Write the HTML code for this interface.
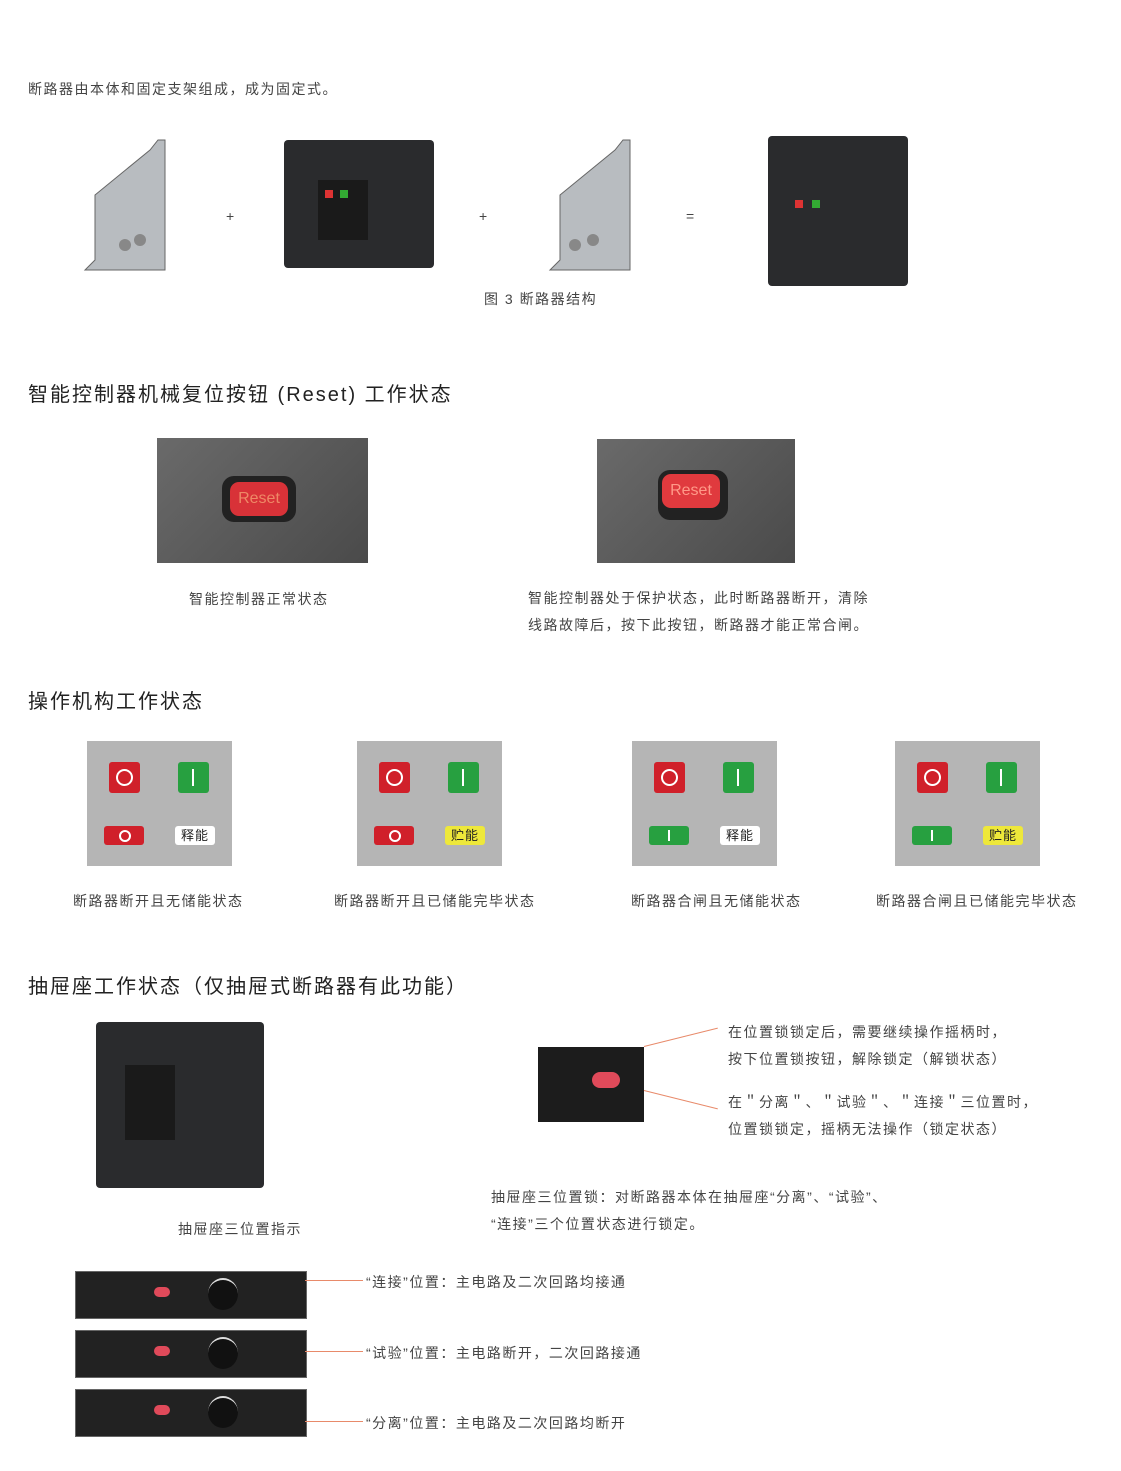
<!DOCTYPE html>
<html><head><meta charset="utf-8"><style>
body{margin:0;width:1121px;height:1471px;background:#fff;position:relative;font-family:"Liberation Sans","Noto Sans CJK SC",sans-serif;color:#333;overflow:hidden}
.a{position:absolute}
.t{font-size:14px;color:#444;white-space:nowrap;letter-spacing:1.5px}
.h{font-size:20px;color:#222;white-space:nowrap;letter-spacing:2px}
.p{position:absolute;width:145px;height:125px;background:#b5b5b5}
.p div{position:absolute;border-radius:3px}
.bo{left:22px;top:21px;width:31px;height:31px;background:#d0202a}
.bo:after{content:"";position:absolute;left:7px;top:7px;width:13px;height:13px;border:2px solid #fff;border-radius:50%}
.bi{left:91px;top:21px;width:31px;height:31px;background:#27a040}
.bi:after{content:"";position:absolute;left:14px;top:7px;width:2px;height:17px;background:#fff}
.sr{left:17px;top:85px;width:40px;height:19px;background:#d0202a}
.sr:after{content:"";position:absolute;left:15px;top:4px;width:8px;height:8px;border:2px solid #fff;border-radius:50%}
.sg{left:17px;top:85px;width:40px;height:19px;background:#27a040}
.sg:after{content:"";position:absolute;left:19px;top:4px;width:2px;height:11px;background:#fff}
.lb{left:88px;top:85px;width:40px;height:19px;font-size:13px;text-align:center;line-height:19px;color:#222;letter-spacing:1px}
.dark{background:#2a2b2d}
.strip{position:absolute;left:75px;width:230px;height:46px;background:#222;border:1px solid #666}
.strip:before{content:"";position:absolute;left:132px;top:6px;width:30px;height:30px;border-radius:50%;background:#111;border-top:2px solid #ddd}
.strip:after{content:"";position:absolute;left:78px;top:15px;width:16px;height:10px;border-radius:5px;background:#e04a5a}
.ln{position:absolute;height:1px;background:#e88a6a}
</style></head><body>
<div class="a t" style="left:28px;top:79px">断路器由本体和固定支架组成，成为固定式。</div>
<svg class="a" style="left:80px;top:135px" width="90" height="140"><polygon points="15,60 70,15 78,5 85,5 85,135 5,135 15,125" fill="#b8bcc0" stroke="#666"/><circle cx="45" cy="110" r="6" fill="#888"/><circle cx="60" cy="105" r="6" fill="#888"/></svg>
<div class="a t" style="left:226px;top:208px">+</div>
<div class="a dark" style="left:284px;top:140px;width:150px;height:128px;border-radius:4px"></div>
<div class="a" style="left:318px;top:180px;width:50px;height:60px;background:#1a1a1a"></div>
<div class="a" style="left:325px;top:190px;width:8px;height:8px;background:#d33"></div>
<div class="a" style="left:340px;top:190px;width:8px;height:8px;background:#3a3"></div>
<div class="a t" style="left:479px;top:208px">+</div>
<svg class="a" style="left:545px;top:135px" width="90" height="140"><polygon points="15,60 70,15 78,5 85,5 85,135 5,135 15,125" fill="#b8bcc0" stroke="#666"/><circle cx="30" cy="110" r="6" fill="#888"/><circle cx="48" cy="105" r="6" fill="#888"/></svg>
<div class="a t" style="left:686px;top:208px">=</div>
<div class="a dark" style="left:768px;top:136px;width:140px;height:150px;border-radius:4px"></div>
<div class="a" style="left:795px;top:200px;width:8px;height:8px;background:#d33"></div>
<div class="a" style="left:812px;top:200px;width:8px;height:8px;background:#3a3"></div>
<div class="a t" style="left:484px;top:289px">图 3 断路器结构</div>

<div class="a h" style="left:28px;top:378px">智能控制器机械复位按钮 (Reset) 工作状态</div>
<div class="a" style="left:157px;top:438px;width:211px;height:125px;background:linear-gradient(135deg,#6a6a6a,#4a4a4a)"></div>
<div class="a" style="left:222px;top:476px;width:74px;height:46px;background:#222;border-radius:12px"></div>
<div class="a" style="left:230px;top:482px;width:58px;height:34px;background:#d83238;border-radius:9px;color:#e86;font-size:16px;text-align:center;line-height:34px">Reset</div>
<div class="a" style="left:597px;top:439px;width:198px;height:124px;background:linear-gradient(135deg,#6a6a6a,#4a4a4a)"></div>
<div class="a" style="left:658px;top:470px;width:70px;height:50px;background:#222;border-radius:12px"></div>
<div class="a" style="left:662px;top:474px;width:58px;height:34px;background:#e03a3e;border-radius:9px;color:#f98;font-size:16px;text-align:center;line-height:34px">Reset</div>
<div class="a t" style="left:189px;top:589px">智能控制器正常状态</div>
<div class="a t" style="left:528px;top:585px;line-height:27px">智能控制器处于保护状态，此时断路器断开，清除<br>线路故障后，按下此按钮，断路器才能正常合闸。</div>

<div class="a h" style="left:28px;top:685px">操作机构工作状态</div>
<div class="p" style="left:87px;top:741px"><div class="bo"></div><div class="bi"></div><div class="sr"></div><div class="lb" style="background:#fff">释能</div></div>
<div class="p" style="left:357px;top:741px"><div class="bo"></div><div class="bi"></div><div class="sr"></div><div class="lb" style="background:#eee83a">贮能</div></div>
<div class="p" style="left:632px;top:741px"><div class="bo"></div><div class="bi"></div><div class="sg"></div><div class="lb" style="background:#fff">释能</div></div>
<div class="p" style="left:895px;top:741px"><div class="bo"></div><div class="bi"></div><div class="sg"></div><div class="lb" style="background:#eee83a">贮能</div></div>
<div class="a t" style="left:73px;top:891px">断路器断开且无储能状态</div>
<div class="a t" style="left:334px;top:891px">断路器断开且已储能完毕状态</div>
<div class="a t" style="left:631px;top:891px">断路器合闸且无储能状态</div>
<div class="a t" style="left:876px;top:891px">断路器合闸且已储能完毕状态</div>

<div class="a h" style="left:28px;top:970px">抽屉座工作状态（仅抽屉式断路器有此功能）</div>
<div class="a dark" style="left:96px;top:1022px;width:168px;height:166px;border-radius:4px"></div>
<div class="a" style="left:125px;top:1065px;width:50px;height:75px;background:#1a1a1a"></div>
<div class="a t" style="left:178px;top:1219px">抽屉座三位置指示</div>
<div class="a" style="left:538px;top:1047px;width:106px;height:75px;background:#1c1c1c"></div>
<div class="a" style="left:592px;top:1072px;width:28px;height:16px;background:#e04a5a;border-radius:8px"></div>
<div class="ln" style="left:644px;top:1046px;width:76px;transform:rotate(-14deg);transform-origin:left"></div>
<div class="ln" style="left:644px;top:1090px;width:76px;transform:rotate(14deg);transform-origin:left"></div>
<div class="a t" style="left:728px;top:1019px;line-height:27px">在位置锁锁定后，需要继续操作摇柄时，<br>按下位置锁按钮，解除锁定（解锁状态）</div>
<div class="a t" style="left:728px;top:1089px;line-height:27px">在＂分离＂、＂试验＂、＂连接＂三位置时，<br>位置锁锁定，摇柄无法操作（锁定状态）</div>
<div class="a t" style="left:491px;top:1184px;line-height:27px">抽屉座三位置锁：对断路器本体在抽屉座“分离”、“试验”、<br>“连接”三个位置状态进行锁定。</div>

<div class="strip" style="top:1271px"></div>
<div class="strip" style="top:1330px"></div>
<div class="strip" style="top:1389px"></div>
<div class="ln" style="left:305px;top:1280px;width:58px"></div>
<div class="ln" style="left:305px;top:1351px;width:58px"></div>
<div class="ln" style="left:305px;top:1421px;width:58px"></div>
<div class="a t" style="left:366px;top:1272px">“连接”位置：主电路及二次回路均接通</div>
<div class="a t" style="left:366px;top:1343px">“试验”位置：主电路断开，二次回路接通</div>
<div class="a t" style="left:366px;top:1413px">“分离”位置：主电路及二次回路均断开</div>
</body></html>
